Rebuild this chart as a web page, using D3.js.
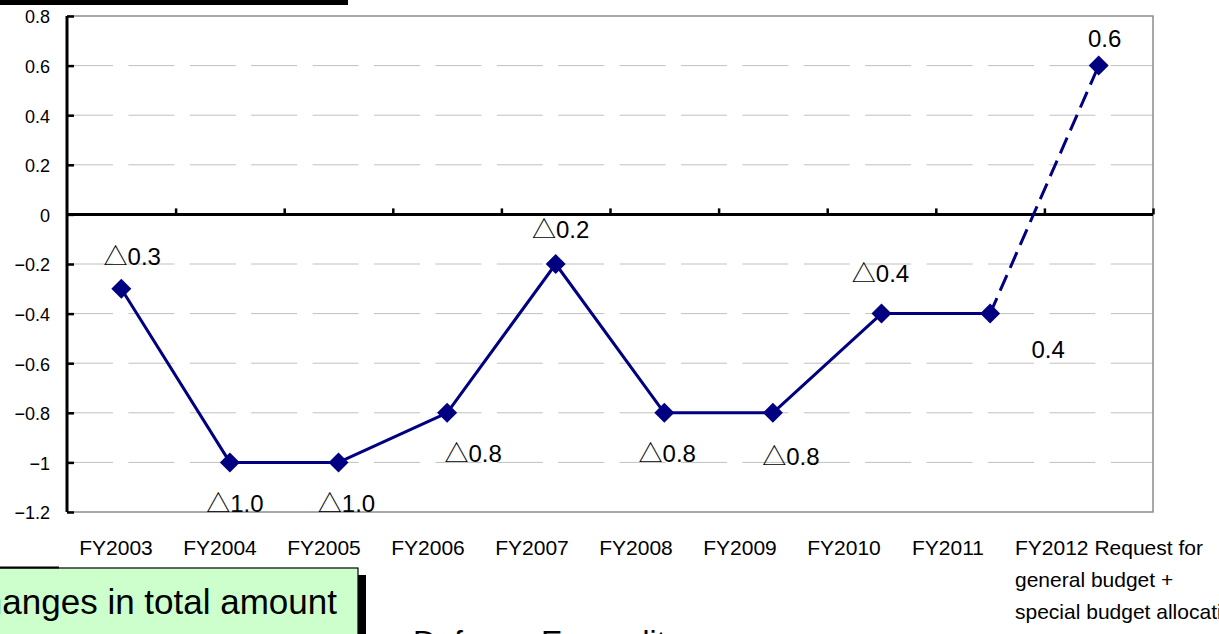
<!DOCTYPE html>
<html>
<head>
<meta charset="utf-8">
<script src="https://cdn.jsdelivr.net/npm/d3@7"></script>
<style>
  html, body { margin: 0; padding: 0; background: #fff; overflow: hidden; }
  svg { display: block; }
  text { font-family: "Liberation Sans", Arial, "Noto Sans CJK JP", sans-serif; fill: #000; }
</style>
</head>
<body>
<svg id="chart" width="1219" height="634"></svg>
<script>
// Year-on-year change of defense expenditure (%), FY2003–FY2012 request
const categories = ["FY2003", "FY2004", "FY2005", "FY2006", "FY2007", "FY2008", "FY2009", "FY2010", "FY2011", "FY2012"];
const values = [-0.3, -1.0, -1.0, -0.8, -0.2, -0.8, -0.8, -0.4, -0.4, 0.6];
const valueLabels = ["△0.3", "△1.0", "△1.0", "△0.8", "△0.2", "△0.8", "△0.8", "△0.4", "0.4", "0.6"];
const yTicks = [0.8, 0.6, 0.4, 0.2, 0, -0.2, -0.4, -0.6, -0.8, -1, -1.2];
const yTickLabels = ["0.8", "0.6", "0.4", "0.2", "0", "−0.2", "−0.4", "−0.6", "−0.8", "−1", "−1.2"];
const xTickLabels = ["FY2003", "FY2004", "FY2005", "FY2006", "FY2007", "FY2008", "FY2009", "FY2010", "FY2011"];
const requestLabelLines = ["FY2012 Request for", "general budget +", "special budget allocation"];

// Value-label placement relative to each marker: [dx, dy to baseline]
const labelOffsets = [[11, -24], [5, 50], [8, 50], [26, 49], [5, -26], [3, 49], [18, 52], [-1, -32], [58, 44], [6, -19]];

const svg = d3.select("#chart");
const plot = { left: 67, right: 1153, top: 16, bottom: 512 };

const x = d3.scaleBand().domain(categories).range([plot.left, plot.right]).padding(0);
const y = d3.scaleLinear().domain([-1.2, 0.8]).range([plot.bottom, plot.top]);
const cx = d => x(d) + x.bandwidth() / 2;

// Slide fragments around the chart
svg.append("rect").attr("x", 0).attr("y", 0).attr("width", 348).attr("height", 5).attr("fill", "#000");

// Dashed horizontal gridlines
svg.append("g").selectAll("line")
  .data(yTicks.filter(v => v !== 0 && v !== 0.8 && v !== -1.2))
  .join("line")
  .attr("x1", plot.left).attr("x2", plot.right)
  .attr("y1", d => y(d)).attr("y2", d => y(d))
  .attr("stroke", "#c0c0c0").attr("stroke-width", 1)
  .attr("stroke-dasharray", "46,15.4");

// Plot area frame (top, right, bottom)
svg.append("path")
  .attr("d", `M${plot.left},${plot.top}H${plot.right}V${plot.bottom}H${plot.left}`)
  .attr("fill", "none").attr("stroke", "#8c8c8c").attr("stroke-width", 1.5);

// Y axis
const yAxis = d3.axisRight(y).tickValues(yTicks).tickSize(7).tickFormat("");
const yg = svg.append("g").attr("transform", `translate(${plot.left},0)`).call(yAxis);
yg.select(".domain").attr("stroke", "#000").attr("stroke-width", 3).attr("d", `M0,${plot.top}V${plot.bottom}`);
yg.selectAll(".tick line").attr("stroke", "#000").attr("stroke-width", 2.5);

svg.append("g").selectAll("text")
  .data(yTicks)
  .join("text")
  .attr("x", 50)
  .attr("y", d => y(d) + 1)
  .attr("dy", "0.35em")
  .attr("text-anchor", "end")
  .attr("font-size", 18)
  .text((d, i) => yTickLabels[i]);

// Zero line with category boundary ticks pointing up
const zeroAxis = d3.axisTop(d3.scaleLinear().domain([0, categories.length]).range([plot.left, plot.right]))
  .tickValues(d3.range(1, categories.length + 1)).tickSize(6).tickFormat("");
const zg = svg.append("g").attr("transform", `translate(0,${y(0)})`).call(zeroAxis);
zg.select(".domain").attr("stroke", "#000").attr("stroke-width", 3).attr("d", `M${plot.left},0H${plot.right}`);
zg.selectAll(".tick line").attr("stroke", "#000").attr("stroke-width", 2.5);

// Series line: solid for settled budgets, dashed to the FY2012 request
const pts = categories.map((c, i) => [cx(c), y(values[i])]);
const line = d3.line();
const last = pts.length - 1;
svg.append("path")
  .attr("d", line(pts.slice(0, last)))
  .attr("fill", "none").attr("stroke", "#000080").attr("stroke-width", 3).attr("stroke-linejoin", "round");
svg.append("path")
  .attr("d", line(pts.slice(last - 1)))
  .attr("fill", "none").attr("stroke", "#000080").attr("stroke-width", 3)
  .attr("stroke-dasharray", "17,8");

// Diamond markers
const diamond = d3.symbol().type(d3.symbolSquare).size(200);
svg.append("g").selectAll("path")
  .data(pts)
  .join("path")
  .attr("d", diamond)
  .attr("transform", d => `translate(${d[0]},${d[1]}) rotate(45)`)
  .attr("fill", "#000080");

// Value labels
svg.append("g").selectAll("text")
  .data(pts)
  .join("text")
  .attr("x", (d, i) => d[0] + labelOffsets[i][0])
  .attr("y", (d, i) => d[1] + labelOffsets[i][1])
  .attr("text-anchor", "middle")
  .attr("font-size", 24)
  .text((d, i) => valueLabels[i]);

// Category labels along the bottom
const labelX = d3.scaleLinear().domain([0, xTickLabels.length - 1]).range([116, 948]);
svg.append("g").selectAll("text")
  .data(xTickLabels)
  .join("text")
  .attr("x", (d, i) => labelX(i))
  .attr("y", 555)
  .attr("text-anchor", "middle")
  .attr("font-size", 21)
  .text(d => d);

const req = svg.append("text")
  .attr("x", labelX(xTickLabels.length) - 37)
  .attr("y", 555)
  .attr("font-size", 21);
req.selectAll("tspan")
  .data(requestLabelLines)
  .join("tspan")
  .attr("x", labelX(xTickLabels.length) - 37)
  .attr("dy", (d, i) => i === 0 ? 0 : 32)
  .text(d => d);

// Caption box
svg.append("rect").attr("x", 358).attr("y", 575).attr("width", 8).attr("height", 70).attr("fill", "#000");
svg.append("rect").attr("x", -2).attr("y", 568).attr("width", 360).attr("height", 70)
  .attr("fill", "#ccffcc").attr("stroke", "#000").attr("stroke-width", 1.2);
svg.append("line").attr("x1", 0).attr("x2", 59).attr("y1", 567.5).attr("y2", 567.5)
  .attr("stroke", "#000").attr("stroke-width", 2);
svg.append("text")
  .attr("x", 337).attr("y", 614)
  .attr("text-anchor", "end")
  .attr("font-size", 35)
  .text("Changes in total amount");

// Title below, mostly outside the frame
svg.append("text")
  .attr("x", 413).attr("y", 653)
  .attr("font-size", 32)
  .text("Defense Expenditure");
</script>
</body>
</html>
